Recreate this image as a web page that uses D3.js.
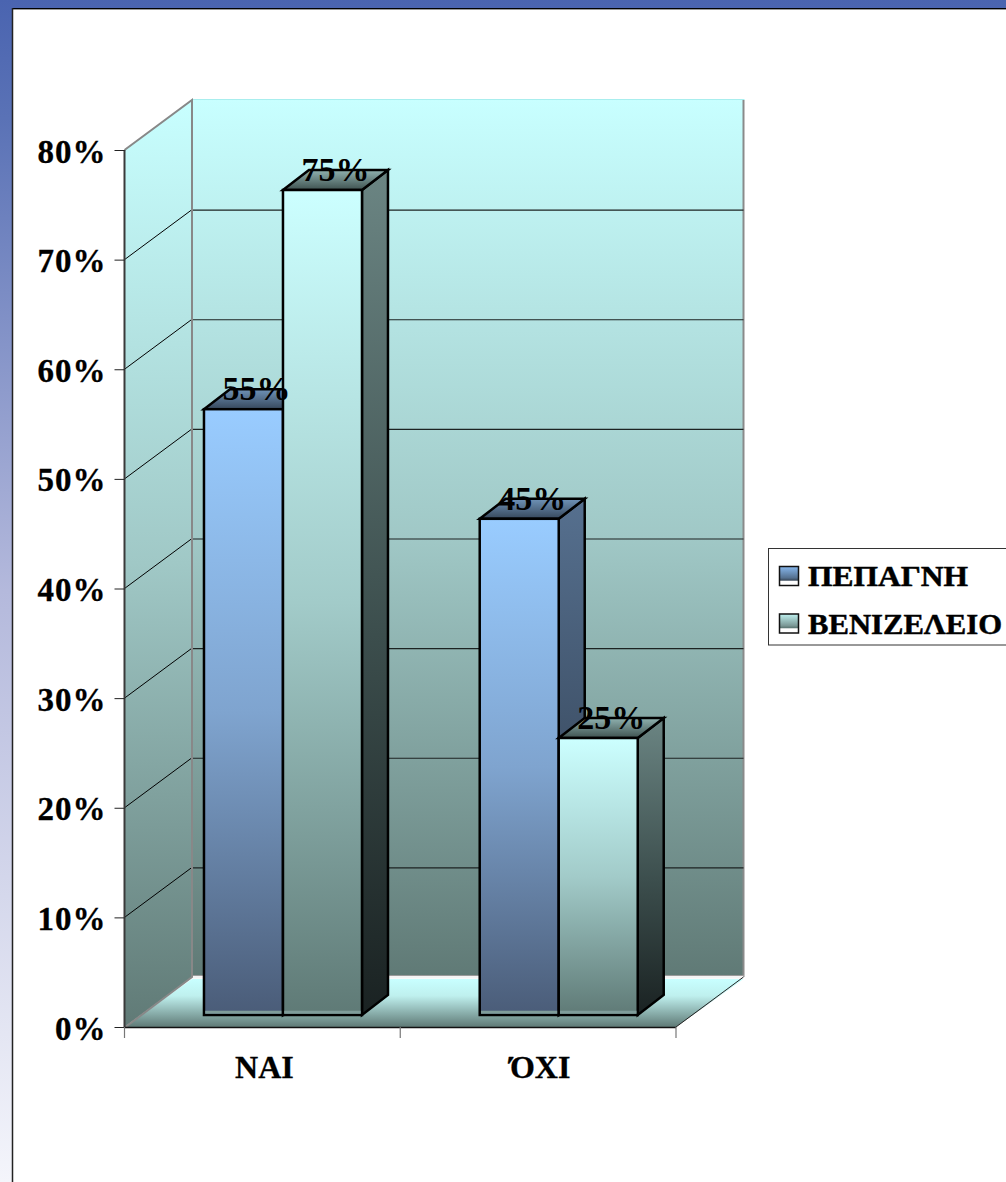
<!DOCTYPE html>
<html>
<head>
<meta charset="utf-8">
<script src="https://cdn.jsdelivr.net/npm/d3@7"></script>
<style>
html,body{margin:0;padding:0;background:#fff;overflow:hidden}
svg{display:block}
text{font-family:"Liberation Serif",serif;font-weight:bold;fill:#000}
</style>
</head>
<body>
<div id="chart"></div>
<script>
// Survey answers by hospital, in percent
const categories = ["ΝΑΙ", "ΌΧΙ"];
const seriesNames = ["ΠΕΠΑΓΝΗ", "ΒΕΝΙΖΕΛΕΙΟ"];
const pepagni = [55, 45];
const venizeleio = [75, 25];
const yTicks = [0, 10, 20, 30, 40, 50, 60, 70, 80];

const W = 1006, H = 1182;

// Plot box: front plane, depth of the back wall, and the plane the bars stand on
const front = {left: 124.5, right: 676, bottom: 1027, top: 150};
const depth = {x: 67.5, y: -50};
const barDepth = {x: 26, y: -20};
const barFoot = 3;

const svg = d3.select("#chart").append("svg").attr("width", W).attr("height", H);
const defs = svg.append("defs");

function vGrad(id, stops) {
  const g = defs.append("linearGradient").attr("id", id)
    .attr("x1", 0).attr("y1", 0).attr("x2", 0).attr("y2", 1);
  stops.forEach(([o, c]) => g.append("stop").attr("offset", o).attr("stop-color", c));
  return `url(#${id})`;
}

const pageFill = vGrad("page", [[0, "#4a64b0"], [0.1, "#5a72b6"], [0.5, "#b4b9dc"], [1, "#f4f5fb"]]);
const wallFill = vGrad("wall", [[0, "#c8ffff"], [0.5, "#a0c8c6"], [1, "#607a76"]]);
const floorFill = vGrad("floor", [[0, "#c8ffff"], [0.35, "#bff0ee"], [1, "#5f7a76"]]);
const faces = [
  {
    front: vGrad("f0", [[0, "#99ccff"], [0.5, "#7fa4cf"], [1, "#4a5c78"]]),
    side: vGrad("s0", [[0, "#56708f"], [0.55, "#3c4e64"], [1, "#1f2a3a"]]),
    top: vGrad("t0", [[0, "#6f93b8"], [1, "#37485c"]]),
    swatch: vGrad("k0", [[0, "#88b8ee"], [0.6, "#54708f"], [0.72, "#3a4a5c"], [0.78, "#ffffff"], [1, "#ffffff"]])
  },
  {
    front: vGrad("f1", [[0, "#ccffff"], [0.5, "#a2cbc9"], [1, "#5f7a76"]]),
    side: vGrad("s1", [[0, "#6b8583"], [0.55, "#3c4e4d"], [1, "#1a2222"]]),
    top: vGrad("t1", [[0, "#90b2b0"], [1, "#3f5250"]]),
    swatch: vGrad("k1", [[0, "#c0f2f0"], [0.6, "#7c9a98"], [0.72, "#5f7a76"], [0.78, "#ffffff"], [1, "#ffffff"]])
  }
];

// Slide background and the white panel on top of it
svg.append("rect").attr("width", W).attr("height", H).attr("fill", pageFill);
svg.append("rect").attr("x", 12).attr("y", 8).attr("width", W - 12).attr("height", H - 8).attr("fill", "#fff");
svg.append("line").attr("x1", 12).attr("x2", W).attr("y1", 8.5).attr("y2", 8.5).attr("stroke", "#000");
svg.append("line").attr("x1", 12).attr("x2", W).attr("y1", 9.5).attr("y2", 9.5).attr("stroke", "#999");
svg.append("line").attr("x1", 12.5).attr("x2", 12.5).attr("y1", 8).attr("y2", H).attr("stroke", "#222").attr("stroke-width", 1.5);

// Scales
const y = d3.scaleLinear().domain([0, 80]).range([front.bottom, front.top]);
const yBar = d3.scaleLinear().domain([0, 80]).range([1012, 135.2]);
const xCat = d3.scaleBand().domain(categories).range([front.left, front.right]);
const barWidth = 79;
const barStart = 20.6 + xCat.bandwidth() / 2 - barWidth;
const xSeries = d3.scaleBand().domain(seriesNames).range([0, barWidth * 2]);

const pts = a => a.map(p => p.join(",")).join(" ");

// Back wall, side wall, floor
const backLeft = front.left + depth.x, backRight = front.right + depth.x;
const wallBottom = front.bottom + depth.y;
const wallTop = front.top + depth.y;

svg.append("polygon")
  .attr("points", pts([[front.left, front.top], [backLeft, wallTop], [backLeft, wallBottom], [front.left, front.bottom]]))
  .attr("fill", wallFill);
svg.append("rect")
  .attr("x", backLeft).attr("y", wallTop)
  .attr("width", backRight - backLeft).attr("height", wallBottom - wallTop - 2)
  .attr("fill", wallFill);
svg.append("line").attr("x1", backLeft).attr("x2", backRight + 1).attr("y1", wallTop - 0.5).attr("y2", wallTop - 0.5)
  .attr("stroke", "#a8eeee");
svg.append("line").attr("x1", backRight).attr("x2", backRight).attr("y1", wallTop).attr("y2", wallBottom)
  .attr("stroke", "#8a8a8a").attr("stroke-width", 2);

// Gridlines across both walls
const inner = yTicks.filter(t => t > 0 && t < 80);
svg.append("g").selectAll("line").data(inner).join("line")
  .attr("x1", backLeft).attr("x2", backRight)
  .attr("y1", d => y(d) + depth.y + 0.5).attr("y2", d => y(d) + depth.y + 0.5)
  .attr("stroke", "#1c2322").attr("stroke-width", 1.2);
svg.append("g").selectAll("line").data(inner).join("line")
  .attr("x1", front.left).attr("x2", backLeft)
  .attr("y1", d => y(d)).attr("y2", d => y(d) + depth.y)
  .attr("stroke", "#000").attr("stroke-width", 1);

// Floor with its pale back edge
svg.append("polygon")
  .attr("points", pts([[front.left, front.bottom], [backLeft, wallBottom + 2], [backRight, wallBottom + 2], [front.right, front.bottom]]))
  .attr("fill", floorFill);
svg.append("line").attr("x1", backLeft).attr("x2", backRight).attr("y1", wallBottom).attr("y2", wallBottom)
  .attr("stroke", "#f4f4f4").attr("stroke-width", 3);
svg.append("line").attr("x1", backLeft).attr("x2", backRight).attr("y1", wallBottom - 1.5).attr("y2", wallBottom - 1.5)
  .attr("stroke", "#9a9a9a").attr("stroke-width", 1);
svg.append("line").attr("x1", front.right).attr("y1", front.bottom).attr("x2", backRight).attr("y2", wallBottom)
  .attr("stroke", "#222").attr("stroke-width", 1);

// Wall edges
svg.append("polyline")
  .attr("points", pts([[front.left, front.top], [backLeft, wallTop], [backLeft, wallBottom], [front.left + 1, front.bottom]]))
  .attr("fill", "none").attr("stroke", "#888").attr("stroke-width", 2);
svg.append("line").attr("x1", front.left).attr("x2", front.left).attr("y1", front.top).attr("y2", front.bottom)
  .attr("stroke", "#3a3a3a").attr("stroke-width", 2);
svg.append("line").attr("x1", front.left).attr("x2", front.right).attr("y1", front.bottom + 0.5).attr("y2", front.bottom + 0.5)
  .attr("stroke", "#111").attr("stroke-width", 1.5);

// Axis ticks and labels come from d3 axes
const yAxis = d3.axisLeft(y).tickValues(yTicks).tickSize(10).tickPadding(8).tickFormat(d => d + "%");
const gy = svg.append("g").attr("transform", `translate(${front.left},0)`).call(yAxis);
gy.select(".domain").remove();
gy.selectAll(".tick line").attr("stroke", "#222");
gy.selectAll(".tick text")
  .attr("font-family", null).attr("font-size", 33).attr("x", -18).attr("dy", null)
  .attr("y", 12).style("font-size", "33px").style("letter-spacing", "1px")
  .style("stroke", "#000").style("stroke-width", "0.3px");

const xAxis = d3.axisBottom(xCat).tickSize(0).tickPadding(0);
const gx = svg.append("g").attr("transform", `translate(2,${front.bottom})`).call(xAxis);
gx.select(".domain").remove();
gx.selectAll(".tick text")
  .attr("y", 51).attr("dy", null).style("font-size", "32px")
  .style("stroke", "#000").style("stroke-width", "0.3px");
svg.append("g").selectAll("line").data([0, 1, 2]).join("line")
  .attr("x1", i => front.left + i * xCat.step()).attr("x2", i => front.left + i * xCat.step())
  .attr("y1", front.bottom).attr("y2", front.bottom + 11)
  .attr("stroke", "#777").attr("stroke-width", 1.2);

// Bars: bottom strip, side, top and front faces, then the value labels
const seriesValues = [pepagni, venizeleio];
const groups = [];
categories.forEach((c, ci) => seriesValues.forEach((vals, si) => {
  groups.push({cat: c, si, value: vals[ci]});
}));

const bars = svg.append("g").selectAll("g").data(groups).join("g")
  .attr("transform", d => `translate(${xCat(d.cat) + barStart + xSeries(seriesNames[d.si])},0)`);

const outline = {stroke: "#000", "stroke-width": 2.5, "stroke-linejoin": "miter"};
function styled(sel) { Object.entries(outline).forEach(([k, v]) => sel.attr(k, v)); return sel; }

const baseY = yBar(0) + barFoot;
styled(bars.append("polygon"))
  .attr("points", d => pts([[barWidth, yBar(d.value)], [barWidth + barDepth.x, yBar(d.value) + barDepth.y], [barWidth + barDepth.x, baseY + barDepth.y], [barWidth, baseY]]))
  .attr("fill", d => faces[d.si].side);
styled(bars.append("polygon"))
  .attr("points", d => pts([[0, yBar(d.value)], [barDepth.x, yBar(d.value) + barDepth.y], [barWidth + barDepth.x, yBar(d.value) + barDepth.y], [barWidth, yBar(d.value)]]))
  .attr("fill", d => faces[d.si].top);
styled(bars.append("rect"))
  .attr("x", 0).attr("width", barWidth)
  .attr("y", d => yBar(d.value)).attr("height", d => baseY - yBar(d.value))
  .attr("fill", d => faces[d.si].front);
bars.append("rect")
  .attr("x", 1.25).attr("width", barWidth - 2.5)
  .attr("y", baseY - 4.25).attr("height", 3)
  .attr("fill", "#7f9c9a");

svg.append("g").selectAll("text").data(groups).join("text")
  .attr("x", d => xCat(d.cat) + barStart + xSeries(seriesNames[d.si]) + barWidth / 2 + 13)
  .attr("y", d => yBar(d.value) - 9)
  .attr("text-anchor", "middle")
  .style("font-size", "34px")
  .text(d => d.value + "%");

// Legend
const legendBox = {x: 768.5, y: 548.5, w: 245, h: 96.5};
svg.append("rect").attr("x", legendBox.x).attr("y", legendBox.y)
  .attr("width", legendBox.w).attr("height", legendBox.h)
  .attr("fill", "#fff").attr("stroke", "#333").attr("stroke-width", 1);
const legendY = d3.scalePoint().domain(seriesNames).range([566.5, 614]);
const legendWidths = [160, 194];
const legend = svg.append("g").selectAll("g").data(seriesNames).join("g")
  .attr("transform", d => `translate(0,${legendY(d)})`);
legend.append("rect").attr("x", 779.5).attr("y", 0).attr("width", 19).attr("height", 19)
  .attr("fill", (d, i) => faces[i].swatch).attr("stroke", "#111").attr("stroke-width", 1.5);
legend.append("text").attr("x", 808).attr("y", 19.5)
  .style("font-size", "30px")
  .style("stroke", "#000").style("stroke-width", "0.5px")
  .attr("textLength", (d, i) => legendWidths[i])
  .attr("lengthAdjust", "spacingAndGlyphs")
  .text(d => d);
</script>
</body>
</html>
